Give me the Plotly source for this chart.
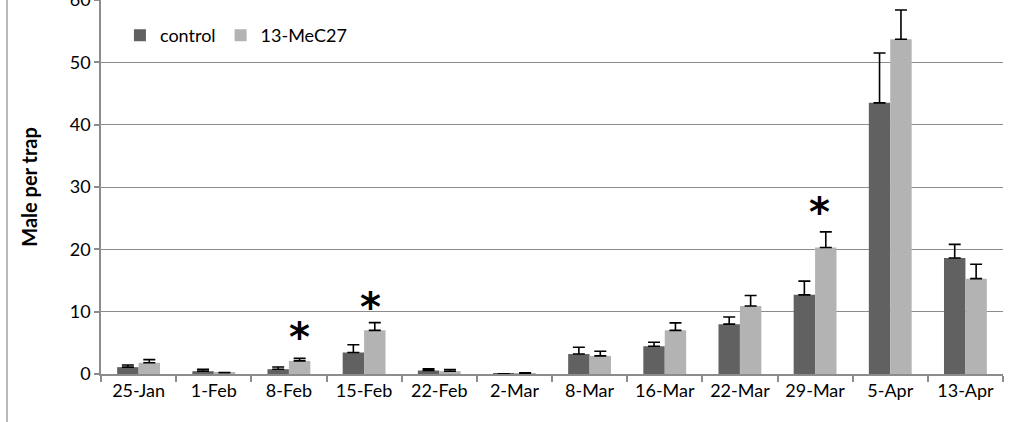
import plotly.graph_objects as go

categories = ["25-Jan", "1-Feb", "8-Feb", "15-Feb", "22-Feb", "2-Mar",
              "8-Mar", "16-Mar", "22-Mar", "29-Mar", "5-Apr", "13-Apr"]
control = [1.1, 0.45, 0.77, 3.45, 0.56, 0.05, 3.2, 4.45, 8.0, 12.7, 43.5, 18.6]
control_err = [0.35, 0.3, 0.35, 1.25, 0.27, 0.0, 1.1, 0.65, 1.15, 2.2, 8.0, 2.2]
mec27 = [1.8, 0.2, 2.1, 7.0, 0.45, 0.1, 2.9, 7.0, 10.9, 20.3, 53.7, 15.3]
mec27_err = [0.5, 0.05, 0.4, 1.25, 0.27, 0.1, 0.75, 1.2, 1.7, 2.5, 4.7, 2.3]
star_categories = ["8-Feb", "15-Feb", "29-Mar"]
star_levels = [6.0, 10.8, 26.0]
y_ticks = [0, 10, 20, 30, 40, 50, 60]

FONT = "Lato"
GRID = "#8c8c8c"

fig = go.Figure()
fig.add_trace(go.Bar(
    x=categories, y=control, name="control",
    marker=dict(color="#616161", line=dict(width=0)),
    error_y=dict(type="data", array=control_err, arrayminus=[0] * len(control),
                 symmetric=False, color="black", thickness=1.6, width=6),
))
fig.add_trace(go.Bar(
    x=categories, y=mec27, name="13-MeC27",
    marker=dict(color="#b3b3b3", line=dict(width=0)),
    error_y=dict(type="data", array=mec27_err, arrayminus=[0] * len(mec27),
                 symmetric=False, color="black", thickness=1.6, width=6),
))

star_xshifts = [11, 6, 4]
for c, lv, xs in zip(star_categories, star_levels, star_xshifts):
    fig.add_annotation(x=c, y=lv, xref="x", yref="y", text="<b>*</b>",
                       showarrow=False, xshift=xs, yanchor="middle",
                       font=dict(family="DejaVu Sans", size=40, color="black"))

# outer frame line at left
fig.add_shape(type="line", xref="paper", yref="paper",
              x0=-0.1042, x1=-0.1042, y0=-0.2, y1=1.05,
              line=dict(color=GRID, width=1.2))

fig.update_layout(
    width=1025, height=422,
    margin=dict(l=101, r=22, t=0, b=47.5, autoexpand=False),
    plot_bgcolor="white", paper_bgcolor="white",
    barmode="group", bargap=0.43, bargroupgap=0,
    font=dict(family=FONT, size=18, color="black"),
    showlegend=True,
    legend=dict(orientation="h", x=0.021, y=0.905, xanchor="left", yanchor="middle",
                bgcolor="rgba(0,0,0,0)", font=dict(size=18), itemwidth=30,
                traceorder="normal"),
    xaxis=dict(
        showgrid=False, showline=True, linecolor=GRID, linewidth=1.5,
        ticks="outside", tickson="boundaries", ticklen=6, tickcolor=GRID, tickwidth=1.5,
        tickfont=dict(size=18), mirror=False, automargin=False,
    ),
    yaxis=dict(
        range=[0, 60], tickvals=y_ticks, showgrid=True, gridcolor=GRID, gridwidth=1.2,
        showline=True, linecolor=GRID, linewidth=1.5, ticks="outside", ticklen=5,
        tickcolor=GRID, tickwidth=1.5, zeroline=False, tickfont=dict(size=18),
        automargin=False, ticklabeloverflow="allow",
        title=dict(text="<b>Male per trap</b>", font=dict(size=20), standoff=27),
    ),
)

fig.write_html("out.html", config={"displayModeBar": False},
               post_script="document.body.style.margin='0px';document.body.style.overflow='hidden';")
